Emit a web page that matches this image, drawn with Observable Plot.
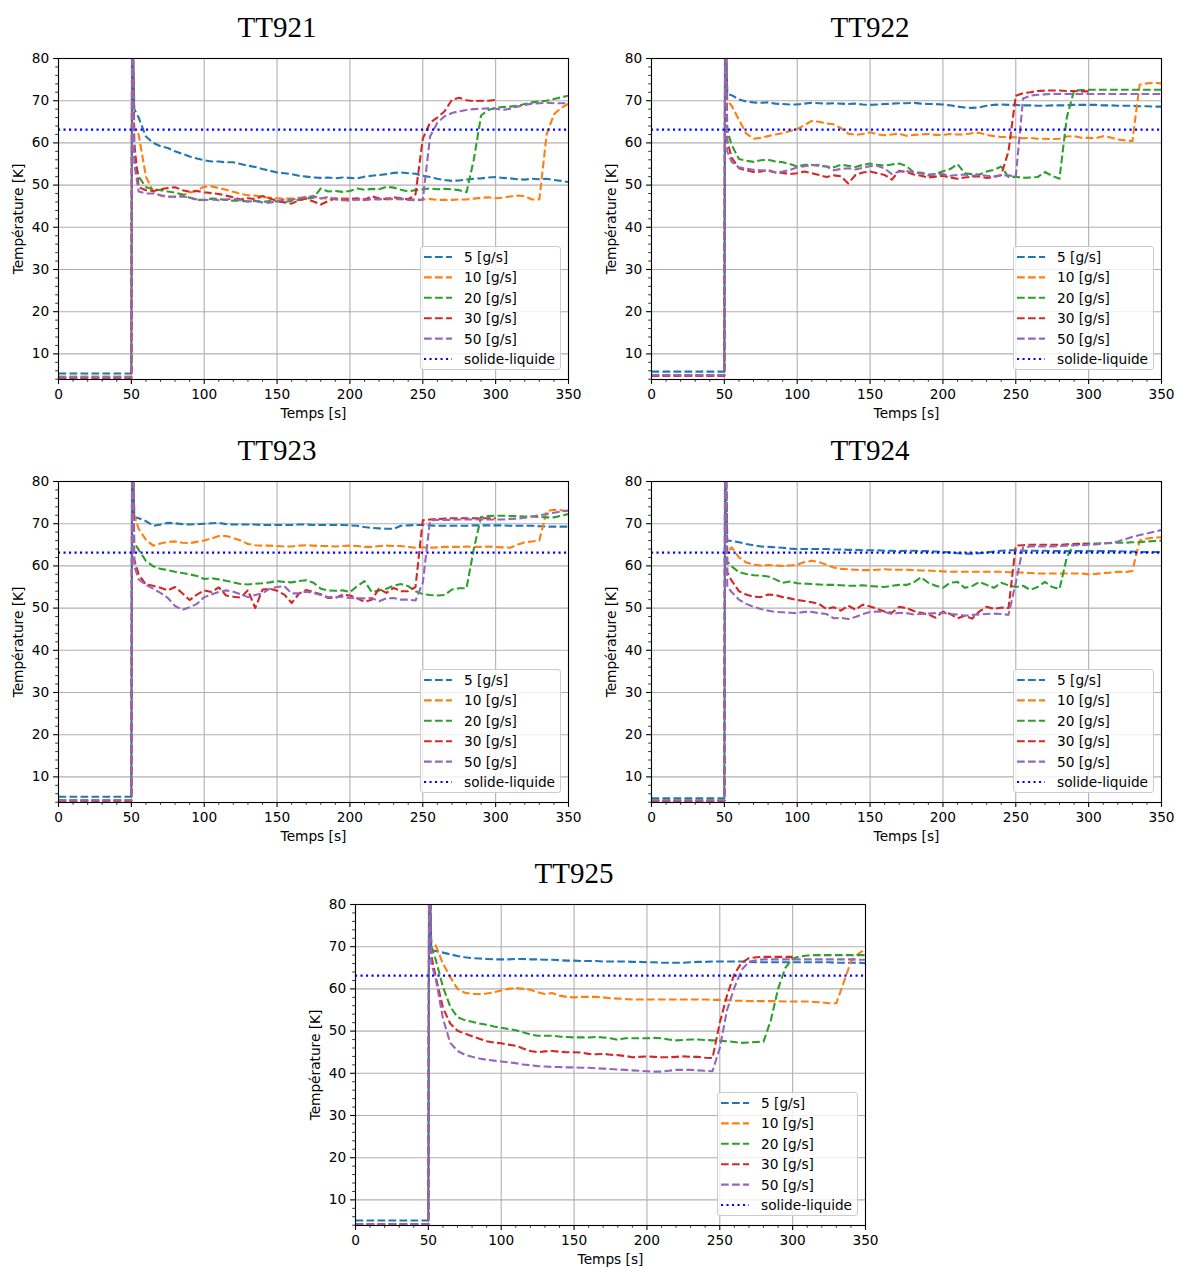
<!DOCTYPE html>
<html>
<head>
<meta charset="utf-8">
<script src="https://cdn.jsdelivr.net/npm/d3@7"></script>
<script src="https://cdn.jsdelivr.net/npm/@observablehq/plot@0.6"></script>
<style>
  html, body { margin: 0; padding: 0; background: #fff; }
  body { width: 1177px; height: 1268px; position: relative; overflow: hidden; font-family: "DejaVu Sans", sans-serif; }
  .panel { position: absolute; }
  .panel svg { max-width: none !important; display: block; }
  .title { position: absolute; width: 300px; text-align: center; font-family: "Liberation Serif", "DejaVu Serif", serif; font-size: 29px; line-height: 29px; height: 29px; color: #000; white-space: nowrap; }
  .legend { position: absolute; box-sizing: border-box; border: 1px solid #cccccc; border-radius: 3px; background: rgba(255,255,255,0.8); }
  .legend svg { display: block; }
</style>
</head>
<body>
<script>
// ---------- data ----------
const TIMES = [0,50,50.6,52,55,60,65,70,75,80,85,90,95,100,105,110,115,120,125,130,135,140,145,150,155,160,165,170,175,180,185,190,195,200,205,210,215,220,225,230,235,240,245,250,255,260,265,270,275,280,285,290,295,300,305,310,315,320,325,330,335,340,345,350];
const SERIES_LABELS = ["5 [g/s]", "10 [g/s]", "20 [g/s]", "30 [g/s]", "50 [g/s]"];
const MELT_LABEL = "solide-liquide";
const MELT_T = 63.15;
const X_TICKS = [0,50,100,150,200,250,300,350];
const X_MINOR = [10,20,30,40,60,70,80,90,110,120,130,140,160,170,180,190,210,220,230,240,260,270,280,290,310,320,330,340];
const Y_TICKS = [10,20,30,40,50,60,70,80];
const Y_MINOR = [4,6,8,12,14,16,18,22,24,26,28,32,34,36,38,42,44,46,48,52,54,56,58,62,64,66,68,72,74,76,78];
const X_LABEL = "Temps [s]";
const Y_LABEL = "Température [K]";
const N = null;

const TT921_5 = [5.35,5.35,95,68, 66,61.5,60,59.2,58.8,58,57.4,56.8,56.3,55.9, 55.6,55.6,55.4,55.4,55,54.6,54.3,53.8,53.4,53, 52.8,52.6,52.2,52,51.8,51.7,51.8,51.6,51.8,51.7, 51.6,52,52.2,52.4,52.6,52.9,53,52.8,52.7,52.2, 51.9,51.5,51.2,51,51.1,51.3,51.5,51.6,51.8,51.9, 51.7,51.6,51.4,51.3,51.5,51.4,51.5,51.2,51,50.7];
const TT921_10 = [4.6,4.6,95,63, 62,52,48.5,47.5,47.2,47.3,47.6,48.2,48.8,49.6, 49.7,49.3,48.9,48.4,47.9,47.6,47.5,47.2,47,46.9, 46.8,46.8,47,47.1,47.2,46.9,46.8,46.8,46.9,46.8, 46.6,46.7,46.6,46.7,46.6,46.7,46.6,46.7,46.6,46.6, 46.7,46.5,46.5,46.5,46.6,46.6,46.8,47,47.1,46.9, 47,47.3,47.5,47.4,46.6,46.6,62,66.8,68.3,69.3];
const TT921_20 = [4.4,4.4,95,57, 52,49.5,49,48.8,48.5,48.2,47.8,47,46.5,46.5, 46.8,46.7,46.5,46.3,46.3,46.1,46.3,46,46.2,46.1, 46,46.3,46.5,46.8,47,49.2,48.5,48.6,48.4,48.6, 49.2,48.9,49.1,49,49.6,49.4,48.9,48.5,48.8,49, 49.2,49,49.1,49,48.8,48.3,56,66.5,67.8,68.3, 68.5,68.6,68.8,69.2,69.6,69.8,70,70.4,70.8,71.2];
const TT921_30 = [4.3,4.3,95,60, 49.5,48.8,48.6,49,49.3,49.5,48.8,48.4,48.6,48.3, 48.1,47.9,47.5,47.1,46.6,46.9,46.7,47.4,46.8,46.3, 45.9,45.6,46.4,46.8,46.1,45.4,46.2,46.8,46.5,46.7, 46.9,46.5,47.4,46.8,46.7,47.1,46.9,46.6,47.8,61, 64.8,66,67.5,70.2,70.7,70.1,69.9,70,70,70.2, N,N,N,N,N,N,N,N,N,N];
const TT921_50 = [4.4,4.4,95,55, 48.5,48,48,47.6,47.3,47.2,47.3,47.1,46.6,46.4, 46.6,46.4,46.6,46.8,46.4,46.1,46.2,45.9,45.8,46.2, 46.6,46.6,46.8,47.2,47.4,46.8,47.2,46.6,46.4,46.3, 46.6,46.4,46.7,46.6,46.9,46.7,46.8,46.5,46.4,46.5, 61.5,64.8,66.3,67.1,67.5,67.8,68,68.1,68.2,68.1, 67.8,68.1,68.6,69,69.3,69.4,69.5,69.4,69.4,69.4];

const TT922_5 = [5.8,5.8,95,71.6, 71.3,70.3,69.8,69.6,69.5,69.6,69.3,69.2,69.1,69.1, 69.3,69.5,69.4,69.3,69.4,69.3,69.2,69.3,69.1,69, 69.1,69.2,69.3,69.4,69.4,69.5,69.3,69.2,69.2,69.1, 68.9,68.6,68.4,68.3,68.4,68.8,69,69.1,69,69, 68.9,68.9,68.8,68.8,68.9,68.9,68.9,69,69,69, 69,68.9,68.9,68.8,68.8,68.8,68.7,68.7,68.6,68.6];
const TT922_10 = [5.0,5.0,95,70, 68.8,65.5,62.2,61,61.2,61.6,62,62.3,62.8,63.3, 64.2,65.2,65,64.6,64.4,63.5,62.2,61.9,62.1,62.5, 62,61.8,62,62.2,61.7,61.9,62,62.1,61.9,61.9, 62.1,62,62,62.3,62.4,61.9,61.6,61.4,61.4,61.3, 61.1,61.2,61,61,60.9,61,61.5,61.6,61.2,61.2, 61.1,61.6,61.3,60.8,60.6,60.4,73.8,74.1,74.2,74.1];
const TT922_20 = [4.9,4.9,95,63, 59.5,56.2,55.8,55.5,55.9,56,55.6,55.4,55,54.4, 54.8,54.8,54.5,54.4,54.2,54.8,54.6,54.3,54.8,55.1, 54.8,54.6,54.9,55.1,54.5,53,52.8,52.3,52.6,53.3, 53.8,55,52.8,52.6,52.5,53.2,53.6,54.4,51.9,52, 51.7,51.8,51.9,53.1,52.2,51.5,66,72.4,72.5,72.6, 72.6,72.6,72.6,72.6,72.6,72.6,72.6,72.6,72.6,72.6];
const TT922_30 = [4.8,4.8,95,60.5, 56.5,54,53.5,53.1,53.2,53.6,53,52.9,52.6,52.8, 53.2,52.8,52.4,51.9,52.3,52.1,50.4,52.4,53,53.2, 52.8,52.4,51.3,53.4,53.1,52.5,52.2,51.8,52,52.2, 51.8,51.5,51.8,52,52.1,51.7,51.9,52.4,58,71.2, 71.8,72,72.3,72.4,72.4,72.4,72.3,72.3,72.2,72.2, N,N,N,N,N,N,N,N,N,N];
const TT922_50 = [4.9,4.9,95,58, 55.5,54.2,53.9,53.6,53.5,53.4,53,53.2,53.6,54.2, 54.5,54.7,54.8,54.4,53.5,53.8,54,53.7,54.1,54.5, 54.6,53.9,52.6,53.2,53.3,53.1,53,52.5,52.6,52.6, 52.2,52.4,52.5,52.2,52.4,52.2,52.1,52.3,52.3,52, 70.5,71.2,71.4,71.5,71.6,71.6,71.6,71.6,71.6,71.6, 71.6,71.6,71.6,71.6,71.6,71.6,71.6,71.6,71.6,71.6];

const TT923_5 = [5.3,5.3,95,71.6, 71.3,70.6,69.5,69.8,70.2,70.1,69.9,69.8,69.9,70, 70.1,70.2,69.9,69.8,69.8,69.8,69.8,69.7,69.7,69.7, 69.7,69.7,69.8,69.8,69.7,69.7,69.7,69.7,69.7,69.6, 69.5,69.2,69,68.9,68.8,68.8,69.5,69.6,69.7,69.7, 69.6,69.5,69.5,69.5,69.5,69.5,69.6,69.6,69.6,69.6, 69.6,69.5,69.5,69.5,69.5,69.4,69.3,69.3,69.3,69.3];
const TT923_10 = [4.5,4.5,95,72, 68.8,66.2,64.8,65.3,65.7,65.8,65.5,65.4,65.7,66, 66.5,67.1,67.1,66.6,66,65.2,64.9,64.8,64.8,64.7, 64.6,64.6,64.8,64.9,64.8,64.7,64.7,64.6,64.7,64.8, 64.7,64.5,64.5,64.7,64.8,64.7,64.7,64.5,64.3,64.4, 64.3,64.4,64.5,64.5,64.5,64.6,64.5,64.5,64.6,64.5, 64.4,64.3,65,65.6,65.8,66,73,73.3,73.2,72.9];
const TT923_20 = [4.4,4.4,95,65.5, 63.8,61.2,59.9,59.3,59,58.6,58.3,58,57.6,56.9, 57.1,56.8,56.5,56.1,55.7,55.6,55.8,55.9,56.1,56.4, 56.2,56.1,56.4,56.6,56,54.6,54.2,54.1,54.2,53.8, 55.2,56.4,53.8,54.2,54.6,55.3,55.7,55.2,54,53.3, 53.1,53,53.1,54.4,54.7,54.7,64,71.6,71.8,71.9, 71.9,71.8,71.8,71.7,71.7,71.6,71.5,71.5,71.9,72.3];
const TT923_30 = [4.3,4.3,95,61.5, 58,55.6,55.3,54.8,54.2,55,53.5,51.9,53.2,54.2, 53.8,54.9,53,52.7,52.5,54.2,50,54.4,54.6,54.1, 53.2,51.2,53.4,54.3,53.8,53.3,52.4,52.4,53.2,53, 52.3,51.5,52,54.6,53.6,54.8,54,54,55,70.8, 71,71.1,71.2,71.3,71.3,71.3,71.3,71.3,71.3,71.3, N,N,N,N,N,N,N,N,N,N];
const TT923_50 = [4.4,4.4,95,60, 56.8,55.5,54.6,53.6,52.4,50.5,49.6,50.2,51,52.6, 53.2,53.8,54.2,53.9,53.3,52.6,53.1,53.5,54.6,55, 55.2,53.5,53.5,53.9,53.6,53.1,52.6,52.6,52.7,52.4, 52.3,52.3,52.4,51.6,52.3,52.4,52,52,51.8,56, 70.8,70.9,70.9,70.9,71,71,71,71,71,71, 71,71.1,71.2,71.4,71.7,72,72.3,72.6,72.9,73.1];

const TT924_5 = [4.95,4.95,95,66, 65.9,65.6,65.2,64.9,64.6,64.5,64.4,64.3,64.1,64, 64,64,64,64,63.9,63.9,63.8,63.8,63.7,63.7, 63.7,63.6,63.6,63.5,63.6,63.6,63.5,63.5,63.4,63.3, 63.2,63,62.9,62.9,63,63.2,63.4,63.6,63.7,63.7, 63.6,63.6,63.6,63.6,63.5,63.5,63.5,63.5,63.5,63.5, 63.5,63.5,63.5,63.5,63.4,63.4,63.3,63.3,63.3,63.3];
const TT924_10 = [4.4,4.4,95,63, 64.4,62,60.8,60.3,60.1,60.2,60.1,60,60.1,60.3, 60.9,61.2,60.9,60.3,59.6,59.3,59.2,59.1,59,59, 59.1,59.2,59.1,59.1,59.1,59,58.9,58.9,58.8,58.7, 58.6,58.6,58.6,58.6,58.6,58.6,58.6,58.6,58.5,58.5, 58.4,58.3,58.2,58.2,58.2,58.2,58.2,58.2,58.2,58, 58.1,58.3,58.4,58.6,58.5,58.8,66,66.5,66.7,66.8];
const TT924_20 = [4.4,4.4,95,61, 59.9,58.5,58.1,57.8,57.7,57.5,56.8,56,56.3,55.9, 55.8,55.7,55.6,55.5,55.5,55.4,55.3,55.3,55.4,55.2, 55.1,55,55.3,55.5,55.5,56.1,57.3,56,55.3,54.8, 56,56.2,54.8,55.2,56.2,55.5,54.8,56,55.4,55, 55.3,54.3,55,56.2,55,54.5,62,65.2,65.3,65.3, 65.3,65.4,65.4,65.5,65.5,65.6,65.6,65.8,65.9,66];
const TT924_30 = [4.3,4.3,95,58.5, 56.5,54,53.2,52.7,52.6,53.2,53.1,52.6,52.3,51.9, 51.7,51.4,51,49.8,50.2,49.4,50.6,49.6,50.8,50.4, 49.8,49.2,48.9,50.3,50,49.3,48.9,48.5,47.7,49.2, 48.6,47.6,48.2,47.5,49.2,50.3,49.8,50.1,50,64.8, 64.9,65,65,65,65,65,65.1,65.2,65.2,65.2, N,N,N,N,N,N,N,N,N,N];
const TT924_50 = [4.4,4.4,95,55, 53.8,52,51,50.3,49.8,49.4,49.1,49,48.9,48.8, 49.1,49.1,48.8,48.6,47.6,47.7,47.4,47.9,48.6,49.1, 49.2,49.1,48.6,48.9,48.8,48.5,48.6,48.7,48.8,48.9, 48.6,48.5,48.2,48.4,48.5,48.6,48.7,48.6,48.4,56, 64.4,64.6,64.6,64.6,64.6,64.7,64.8,64.9,64.9,65, 65.1,65.3,65.5,65.8,66.3,66.9,67.3,67.7,68.1,68.5];

const TT925_5 = [5.1,5.1,95,69.2, 69,68.6,68.2,67.8,67.5,67.3,67.2,67.1,67,67, 67,67.1,67.1,67,67,66.9,66.9,66.8,66.7,66.7, 66.6,66.6,66.6,66.5,66.5,66.5,66.5,66.4,66.4,66.3, 66.3,66.2,66.2,66.2,66.2,66.3,66.4,66.4,66.5,66.5, 66.5,66.5,66.5,66.4,66.3,66.3,66.3,66.3,66.3,66.3, 66.3,66.3,66.3,66.3,66.3,66.2,66.2,66.2,66.2,66.1];
const TT925_10 = [4.2,4.2,95,69, 70.3,66,62.8,60,59.1,58.8,58.8,58.9,59.2,59.6, 60,60.2,60,59.8,59.2,58.8,59,58.4,58.1,58, 58.1,58.1,58.1,58,57.8,57.7,57.6,57.5,57.5,57.5, 57.5,57.5,57.5,57.5,57.5,57.5,57.5,57.5,57.4,57.4, 57.3,57.2,57.2,57.1,57.1,57.1,57.1,57.1,57,57, 57,57,56.9,56.8,56.6,56.6,61.5,66.5,68.3,69.4];
const TT925_20 = [4.2,4.2,95,70, 67,60.5,55.8,53.3,52.6,52.2,51.8,51.5,51.1,50.8, 50.5,50.2,49.7,49.2,48.9,48.9,48.9,48.7,48.6,48.5, 48.5,48.5,48.6,48.5,48.3,47.9,48.3,48.3,48.3,48.3, 48.4,48.3,48,47.8,47.9,48,48,47.9,47.8,47.7, 47.6,47.4,47.2,47.3,47.4,47.5,52.5,60,65,67.2, 67.7,67.9,68,68,68,68,68,68,68,68];
const TT925_30 = [4.2,4.2,95,68, 63,55.5,51.8,50.1,49.4,48.8,48.2,47.6,47.3,47.1, 46.8,46.5,45.9,45.3,45,45.2,45.3,45.1,45,45, 44.9,44.6,44.5,44.6,44.4,44.3,44.1,43.8,43.9,44, 43.9,43.8,43.8,43.9,44,43.9,43.9,43.7,43.6,52, 58.5,63.5,66.2,67.3,67.5,67.6,67.6,67.6,67.6,67.6, N,N,N,N,N,N,N,N,N,N];
const TT925_50 = [4.2,4.2,95,66, 62.5,53,47.2,45.3,44.4,43.9,43.5,43.2,43,42.8, 42.6,42.4,42.1,41.9,41.7,41.6,41.5,41.5,41.4,41.4, 41.3,41.3,41.2,41.1,41,40.9,40.8,40.7,40.6,40.5, 40.4,40.4,40.6,40.8,40.8,40.8,40.7,40.6,40.5,46, 55,60.3,64.5,66.4,66.8,67,67,67,67,67, 67,67,67,67,67,67,67,67,66.9,66.9];

// ---------- styling / layout ----------
const COLORS = ["#1f77b4", "#ff7f0e", "#2ca02c", "#d62728", "#9467bd"];
const MELT_COLOR = "#0000ff";
const FS = 13.7;
const ML = 58, MT = 13, MR = 14, MB = 51, PW = 510, PH = 321;

const PANELS = [
  {name: "TT921", left: 0,   top: 45,  series: [TT921_5, TT921_10, TT921_20, TT921_30, TT921_50]},
  {name: "TT922", left: 593, top: 45,  series: [TT922_5, TT922_10, TT922_20, TT922_30, TT922_50]},
  {name: "TT923", left: 0,   top: 468, series: [TT923_5, TT923_10, TT923_20, TT923_30, TT923_50]},
  {name: "TT924", left: 593, top: 468, series: [TT924_5, TT924_10, TT924_20, TT924_30, TT924_50]},
  {name: "TT925", left: 297, top: 891, series: [TT925_5, TT925_10, TT925_20, TT925_30, TT925_50]}
];

const bad = [];
PANELS.forEach(p => p.series.forEach((s, k) => { if (s.length !== TIMES.length) bad.push(p.name + "_" + k + ":" + s.length); }));
if (bad.length) throw new Error("length mismatch " + bad.join(", "));

function drawPanel(p) {
  const marks = [
    Plot.gridX(X_TICKS, {stroke: "#b0b0b0", strokeOpacity: 1, strokeWidth: 1.1}),
    Plot.gridY(Y_TICKS, {stroke: "#b0b0b0", strokeOpacity: 1, strokeWidth: 1.1})
  ];
  p.series.forEach((arr, k) => {
    const rows = TIMES.map((t, i) => ({t, v: arr[i]}));
    marks.push(Plot.line(rows, {
      x: "t", y: "v", stroke: COLORS[k], strokeWidth: 2.1,
      strokeDasharray: "7.7,3.3", strokeLinecap: "butt", strokeLinejoin: "round", clip: true
    }));
  });
  marks.push(
    Plot.ruleY([MELT_T], {stroke: MELT_COLOR, strokeWidth: 2.1, strokeDasharray: "2.1,3.4", strokeLinecap: "butt"}),
    Plot.frame({stroke: "#000", strokeWidth: 1.1}),
    Plot.axisX({ticks: X_TICKS, tickSize: 4.9, tickPadding: 4.5, fontSize: FS, label: null, strokeWidth: 1.1, stroke: "#000", fill: "#000"}),
    Plot.axisX({ticks: X_MINOR, tickSize: 2.8, text: null, label: null, strokeWidth: 0.8, stroke: "#000"}),
    Plot.axisY({ticks: Y_TICKS, tickSize: 4.9, tickPadding: 4.5, fontSize: FS, label: null, strokeWidth: 1.1, stroke: "#000", fill: "#000"}),
    Plot.axisY({ticks: Y_MINOR, tickSize: 2.8, text: null, label: null, strokeWidth: 0.8, stroke: "#000"}),
    Plot.text([Y_LABEL], {text: d => d, frameAnchor: "left", rotate: -90, dx: -40, textAnchor: "middle", lineAnchor: "middle", fontSize: FS, fill: "#000"}),
    Plot.text([X_LABEL], {text: d => d, frameAnchor: "bottom", dy: 34, textAnchor: "middle", lineAnchor: "middle", fontSize: FS, fill: "#000"})
  );
  const W = ML + PW + MR, H = MT + PH + MB;
  const svg = Plot.plot({
    width: W, height: H,
    marginLeft: ML, marginRight: MR, marginTop: MT, marginBottom: MB,
    x: {domain: [0, 350]},
    y: {domain: [3.93, 80]},
    style: {fontFamily: "DejaVu Sans", fontSize: FS + "px", background: "transparent", color: "#000", overflow: "visible", maxWidth: "none"},
    marks
  });
  svg.setAttribute("width", W);
  svg.setAttribute("height", H);
  svg.style.width = W + "px";
  svg.style.height = H + "px";
  const wrap = document.createElement("div");
  wrap.className = "panel";
  wrap.style.left = p.left + "px";
  wrap.style.top = p.top + "px";
  wrap.style.width = W + "px";
  wrap.style.height = H + "px";
  wrap.appendChild(svg);
  document.body.appendChild(wrap);

  // title
  const title = document.createElement("div");
  title.className = "title";
  title.textContent = p.name;
  title.style.left = (p.left + ML + 219 - 150) + "px";
  title.style.top = (p.top + MT - 20.5 - 24.3) + "px";
  document.body.appendChild(title);

  // legend
  const LW = 141, LH = 124;
  const leg = d3.select(document.body).append("div").attr("class", "legend")
    .style("left", (p.left + ML + 362) + "px").style("top", (p.top + MT + 188) + "px")
    .style("width", LW + "px").style("height", LH + "px");
  const ls = leg.append("svg").attr("width", LW - 2).attr("height", LH - 2)
    .style("font-family", "DejaVu Sans").style("font-size", FS + "px");
  const entries = SERIES_LABELS.map((lab, k) => ({lab, color: COLORS[k], dash: "7.7,3.3"}))
    .concat([{lab: MELT_LABEL, color: MELT_COLOR, dash: "2.1,3.4"}]);
  entries.forEach((e, i) => {
    const y = 10 + i * 20.4;
    ls.append("line").attr("x1", 3).attr("x2", 31).attr("y1", y).attr("y2", y)
      .attr("stroke", e.color).attr("stroke-width", 2.1).attr("stroke-dasharray", e.dash);
    ls.append("text").attr("x", 43).attr("y", y).attr("dy", "0.36em").attr("fill", "#000").text(e.lab);
  });
}

PANELS.forEach(drawPanel);
</script>
</body>
</html>
